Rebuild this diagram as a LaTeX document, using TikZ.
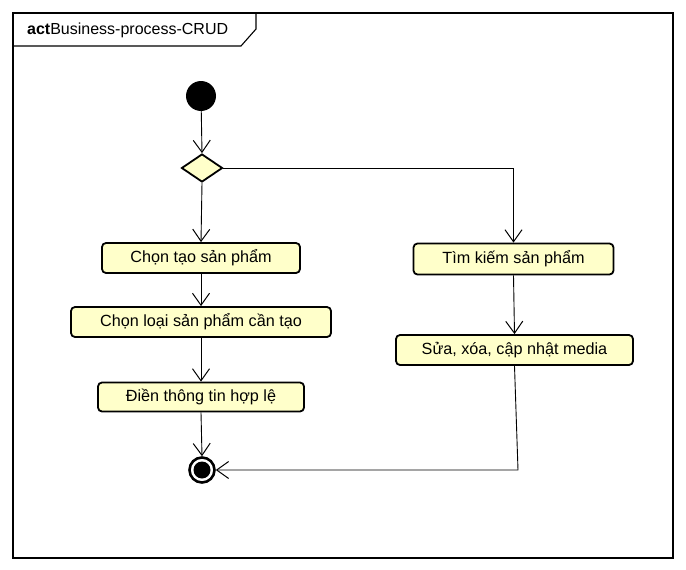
\documentclass[tikz,border=0pt]{standalone}
\usepackage{fontspec}
\setmainfont{Liberation Sans}
\usetikzlibrary{arrows.meta,shapes.geometric}
\definecolor{actfill}{HTML}{FFFFCA}
\tikzset{
  actbox/.style={draw, line width=1.8pt, rounded corners=4pt, fill=actfill,
    minimum height=30pt, inner sep=0pt, font=\fontsize{16.2}{18}\selectfont},
  flow/.style={line width=0.9pt, -{Straight Barb[length=12pt,width=17pt,line width=1pt]}},
  plain/.style={line width=0.9pt}
}
\begin{document}
\begin{tikzpicture}[x=1pt,y=-1pt]
\useasboundingbox (0,0) rectangle (686,570);
\fill[white] (0,0) rectangle (686,570);
% frame
\draw[line width=1.1pt] (13,13) rectangle (673,558);
\draw[line width=1.1pt] (256,13) -- (256,29) -- (241,46) -- (13,46);
\node[anchor=west, inner sep=0pt, font=\fontsize{16}{18}\selectfont] (title) at (27,30) {\textbf{act}Business-process-CRUD};
% nodes
\node[circle, fill=black, minimum size=30pt, inner sep=0pt] (start) at (201,96) {};
\node[diamond, draw, line width=1.8pt, fill=actfill, minimum width=41pt, minimum height=28pt, inner sep=0pt, aspect=1.5] (dec) at (202,168) {};
\node[actbox, minimum width=198pt] (b1) at (201,258) {Chọn tạo sản phẩm};
\node[actbox, minimum width=260pt] (b2) at (201,322) {Chọn loại sản phẩm cần tạo};
\node[actbox, minimum width=206pt, minimum height=29pt] (b3) at (201,397) {Điền thông tin hợp lệ};
\node[actbox, minimum width=200pt, minimum height=31pt] (b4) at (513.5,259) {Tìm kiếm sản phẩm};
\node[actbox, minimum width=237pt] (b5) at (514.5,350) {Sửa, xóa, cập nhật media};
\node[circle, draw=black, line width=2.6pt, fill=white, minimum size=25pt, inner sep=0pt] (final) at (202,470) {};
\fill[black] (final.center) circle (8.5pt);
\coordinate (corner) at (518,470);
% connectors
\draw[flow] (start) -- (dec.north);
\draw[flow] (dec.south) -- (b1.north);
\draw[flow] (b1.south) -- (b2.north);
\draw[flow] (b2.south) -- (b3.north);
\draw[flow] (b3.south) -- (final.north);
\draw[flow] (dec.east) -| (b4.north);
\draw[flow] (b4.south) -- (b5.north);
\draw[flow] (b5.south) -- (corner) -- (final.east);
\end{tikzpicture}
\end{document}
